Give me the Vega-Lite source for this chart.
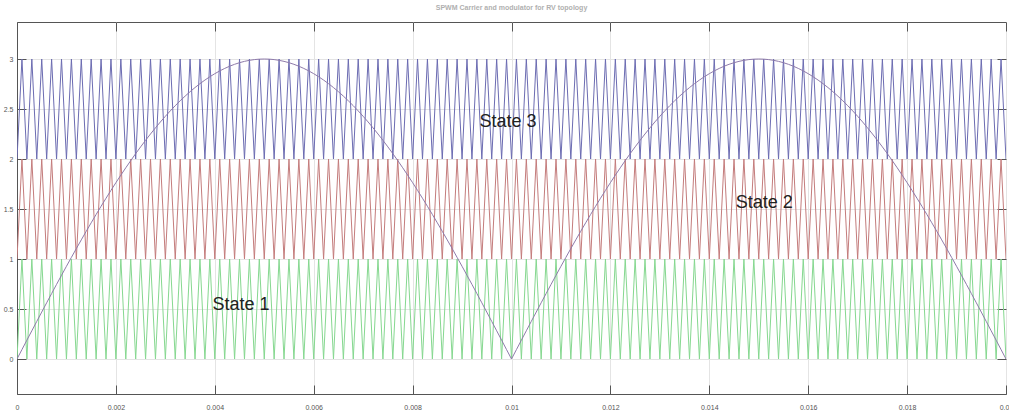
{
"$schema":"https://vega.github.io/schema/vega-lite/v6.json",
"width":989,"height":372,
"autosize":{"type":"none"},
"padding":{"left":17,"top":22,"right":3,"bottom":18},
"background":"white",
"title":{"text":"SPWM Carrier and modulator for RV topology","fontSize":7,"color":"#b0b0b0","font":"Liberation Sans","fontWeight":"bold","offset":11,"anchor":"middle"},
"config":{"view":{"stroke":"#555555","strokeWidth":1}},
"datasets":{
"carrier":[
{"t":0,"g":0,"r":1,"b":2,"m":0},
{"t":0.0001,"g":1,"r":2,"b":3,"m":0.0942},
{"t":0.0002,"g":0,"r":1,"b":2,"m":0.1884},
{"t":0.0003,"g":1,"r":2,"b":3,"m":0.2823},
{"t":0.0004,"g":0,"r":1,"b":2,"m":0.3760},
{"t":0.0005,"g":1,"r":2,"b":3,"m":0.4693},
{"t":0.0006,"g":0,"r":1,"b":2,"m":0.5621},
{"t":0.0007,"g":1,"r":2,"b":3,"m":0.6544},
{"t":0.0008,"g":0,"r":1,"b":2,"m":0.7461},
{"t":0.0009,"g":1,"r":2,"b":3,"m":0.8370},
{"t":0.0010,"g":0,"r":1,"b":2,"m":0.9271},
{"t":0.0011,"g":1,"r":2,"b":3,"m":1.0162},
{"t":0.0012,"g":0,"r":1,"b":2,"m":1.1044},
{"t":0.0013,"g":1,"r":2,"b":3,"m":1.1914},
{"t":0.0014,"g":0,"r":1,"b":2,"m":1.2773},
{"t":0.0015,"g":1,"r":2,"b":3,"m":1.3620},
{"t":0.0016,"g":0,"r":1,"b":2,"m":1.4453},
{"t":0.0017,"g":1,"r":2,"b":3,"m":1.5271},
{"t":0.0018,"g":0,"r":1,"b":2,"m":1.6075},
{"t":0.0019,"g":1,"r":2,"b":3,"m":1.6862},
{"t":0.0020,"g":0,"r":1,"b":2,"m":1.7634},
{"t":0.0021,"g":1,"r":2,"b":3,"m":1.8387},
{"t":0.0022,"g":0,"r":1,"b":2,"m":1.9123},
{"t":0.0023,"g":1,"r":2,"b":3,"m":1.9839},
{"t":0.0024,"g":0,"r":1,"b":2,"m":2.0536},
{"t":0.0025,"g":1,"r":2,"b":3,"m":2.1213},
{"t":0.0026,"g":0,"r":1,"b":2,"m":2.1869},
{"t":0.0027,"g":1,"r":2,"b":3,"m":2.2503},
{"t":0.0028,"g":0,"r":1,"b":2,"m":2.3115},
{"t":0.0029,"g":1,"r":2,"b":3,"m":2.3705},
{"t":0.0030,"g":0,"r":1,"b":2,"m":2.4271},
{"t":0.0031,"g":1,"r":2,"b":3,"m":2.4812},
{"t":0.0032,"g":0,"r":1,"b":2,"m":2.5330},
{"t":0.0033,"g":1,"r":2,"b":3,"m":2.5822},
{"t":0.0034,"g":0,"r":1,"b":2,"m":2.6289},
{"t":0.0035,"g":1,"r":2,"b":3,"m":2.6730},
{"t":0.0036,"g":0,"r":1,"b":2,"m":2.7145},
{"t":0.0037,"g":1,"r":2,"b":3,"m":2.7533},
{"t":0.0038,"g":0,"r":1,"b":2,"m":2.7893},
{"t":0.0039,"g":1,"r":2,"b":3,"m":2.8226},
{"t":0.0040,"g":0,"r":1,"b":2,"m":2.8532},
{"t":0.0041,"g":1,"r":2,"b":3,"m":2.8809},
{"t":0.0042,"g":0,"r":1,"b":2,"m":2.9057},
{"t":0.0043,"g":1,"r":2,"b":3,"m":2.9278},
{"t":0.0044,"g":0,"r":1,"b":2,"m":2.9469},
{"t":0.0045,"g":1,"r":2,"b":3,"m":2.9631},
{"t":0.0046,"g":0,"r":1,"b":2,"m":2.9763},
{"t":0.0047,"g":1,"r":2,"b":3,"m":2.9867},
{"t":0.0048,"g":0,"r":1,"b":2,"m":2.9941},
{"t":0.0049,"g":1,"r":2,"b":3,"m":2.9985},
{"t":0.0050,"g":0,"r":1,"b":2,"m":3},
{"t":0.0051,"g":1,"r":2,"b":3,"m":2.9985},
{"t":0.0052,"g":0,"r":1,"b":2,"m":2.9941},
{"t":0.0053,"g":1,"r":2,"b":3,"m":2.9867},
{"t":0.0054,"g":0,"r":1,"b":2,"m":2.9763},
{"t":0.0055,"g":1,"r":2,"b":3,"m":2.9631},
{"t":0.0056,"g":0,"r":1,"b":2,"m":2.9469},
{"t":0.0057,"g":1,"r":2,"b":3,"m":2.9278},
{"t":0.0058,"g":0,"r":1,"b":2,"m":2.9057},
{"t":0.0059,"g":1,"r":2,"b":3,"m":2.8809},
{"t":0.0060,"g":0,"r":1,"b":2,"m":2.8532},
{"t":0.0061,"g":1,"r":2,"b":3,"m":2.8226},
{"t":0.0062,"g":0,"r":1,"b":2,"m":2.7893},
{"t":0.0063,"g":1,"r":2,"b":3,"m":2.7533},
{"t":0.0064,"g":0,"r":1,"b":2,"m":2.7145},
{"t":0.0065,"g":1,"r":2,"b":3,"m":2.6730},
{"t":0.0066,"g":0,"r":1,"b":2,"m":2.6289},
{"t":0.0067,"g":1,"r":2,"b":3,"m":2.5822},
{"t":0.0068,"g":0,"r":1,"b":2,"m":2.5330},
{"t":0.0069,"g":1,"r":2,"b":3,"m":2.4812},
{"t":0.0070,"g":0,"r":1,"b":2,"m":2.4271},
{"t":0.0071,"g":1,"r":2,"b":3,"m":2.3705},
{"t":0.0072,"g":0,"r":1,"b":2,"m":2.3115},
{"t":0.0073,"g":1,"r":2,"b":3,"m":2.2503},
{"t":0.0074,"g":0,"r":1,"b":2,"m":2.1869},
{"t":0.0075,"g":1,"r":2,"b":3,"m":2.1213},
{"t":0.0076,"g":0,"r":1,"b":2,"m":2.0536},
{"t":0.0077,"g":1,"r":2,"b":3,"m":1.9839},
{"t":0.0078,"g":0,"r":1,"b":2,"m":1.9123},
{"t":0.0079,"g":1,"r":2,"b":3,"m":1.8387},
{"t":0.0080,"g":0,"r":1,"b":2,"m":1.7634},
{"t":0.0081,"g":1,"r":2,"b":3,"m":1.6862},
{"t":0.0082,"g":0,"r":1,"b":2,"m":1.6075},
{"t":0.0083,"g":1,"r":2,"b":3,"m":1.5271},
{"t":0.0084,"g":0,"r":1,"b":2,"m":1.4453},
{"t":0.0085,"g":1,"r":2,"b":3,"m":1.3620},
{"t":0.0086,"g":0,"r":1,"b":2,"m":1.2773},
{"t":0.0087,"g":1,"r":2,"b":3,"m":1.1914},
{"t":0.0088,"g":0,"r":1,"b":2,"m":1.1044},
{"t":0.0089,"g":1,"r":2,"b":3,"m":1.0162},
{"t":0.0090,"g":0,"r":1,"b":2,"m":0.9271},
{"t":0.0091,"g":1,"r":2,"b":3,"m":0.8370},
{"t":0.0092,"g":0,"r":1,"b":2,"m":0.7461},
{"t":0.0093,"g":1,"r":2,"b":3,"m":0.6544},
{"t":0.0094,"g":0,"r":1,"b":2,"m":0.5621},
{"t":0.0095,"g":1,"r":2,"b":3,"m":0.4693},
{"t":0.0096,"g":0,"r":1,"b":2,"m":0.3760},
{"t":0.0097,"g":1,"r":2,"b":3,"m":0.2823},
{"t":0.0098,"g":0,"r":1,"b":2,"m":0.1884},
{"t":0.0099,"g":1,"r":2,"b":3,"m":0.0942},
{"t":0.0100,"g":0,"r":1,"b":2,"m":0},
{"t":0.0101,"g":1,"r":2,"b":3,"m":0.0942},
{"t":0.0102,"g":0,"r":1,"b":2,"m":0.1884},
{"t":0.0103,"g":1,"r":2,"b":3,"m":0.2823},
{"t":0.0104,"g":0,"r":1,"b":2,"m":0.3760},
{"t":0.0105,"g":1,"r":2,"b":3,"m":0.4693},
{"t":0.0106,"g":0,"r":1,"b":2,"m":0.5621},
{"t":0.0107,"g":1,"r":2,"b":3,"m":0.6544},
{"t":0.0108,"g":0,"r":1,"b":2,"m":0.7461},
{"t":0.0109,"g":1,"r":2,"b":3,"m":0.8370},
{"t":0.0110,"g":0,"r":1,"b":2,"m":0.9271},
{"t":0.0111,"g":1,"r":2,"b":3,"m":1.0162},
{"t":0.0112,"g":0,"r":1,"b":2,"m":1.1044},
{"t":0.0113,"g":1,"r":2,"b":3,"m":1.1914},
{"t":0.0114,"g":0,"r":1,"b":2,"m":1.2773},
{"t":0.0115,"g":1,"r":2,"b":3,"m":1.3620},
{"t":0.0116,"g":0,"r":1,"b":2,"m":1.4453},
{"t":0.0117,"g":1,"r":2,"b":3,"m":1.5271},
{"t":0.0118,"g":0,"r":1,"b":2,"m":1.6075},
{"t":0.0119,"g":1,"r":2,"b":3,"m":1.6862},
{"t":0.0120,"g":0,"r":1,"b":2,"m":1.7634},
{"t":0.0121,"g":1,"r":2,"b":3,"m":1.8387},
{"t":0.0122,"g":0,"r":1,"b":2,"m":1.9123},
{"t":0.0123,"g":1,"r":2,"b":3,"m":1.9839},
{"t":0.0124,"g":0,"r":1,"b":2,"m":2.0536},
{"t":0.0125,"g":1,"r":2,"b":3,"m":2.1213},
{"t":0.0126,"g":0,"r":1,"b":2,"m":2.1869},
{"t":0.0127,"g":1,"r":2,"b":3,"m":2.2503},
{"t":0.0128,"g":0,"r":1,"b":2,"m":2.3115},
{"t":0.0129,"g":1,"r":2,"b":3,"m":2.3705},
{"t":0.0130,"g":0,"r":1,"b":2,"m":2.4271},
{"t":0.0131,"g":1,"r":2,"b":3,"m":2.4812},
{"t":0.0132,"g":0,"r":1,"b":2,"m":2.5330},
{"t":0.0133,"g":1,"r":2,"b":3,"m":2.5822},
{"t":0.0134,"g":0,"r":1,"b":2,"m":2.6289},
{"t":0.0135,"g":1,"r":2,"b":3,"m":2.6730},
{"t":0.0136,"g":0,"r":1,"b":2,"m":2.7145},
{"t":0.0137,"g":1,"r":2,"b":3,"m":2.7533},
{"t":0.0138,"g":0,"r":1,"b":2,"m":2.7893},
{"t":0.0139,"g":1,"r":2,"b":3,"m":2.8226},
{"t":0.0140,"g":0,"r":1,"b":2,"m":2.8532},
{"t":0.0141,"g":1,"r":2,"b":3,"m":2.8809},
{"t":0.0142,"g":0,"r":1,"b":2,"m":2.9057},
{"t":0.0143,"g":1,"r":2,"b":3,"m":2.9278},
{"t":0.0144,"g":0,"r":1,"b":2,"m":2.9469},
{"t":0.0145,"g":1,"r":2,"b":3,"m":2.9631},
{"t":0.0146,"g":0,"r":1,"b":2,"m":2.9763},
{"t":0.0147,"g":1,"r":2,"b":3,"m":2.9867},
{"t":0.0148,"g":0,"r":1,"b":2,"m":2.9941},
{"t":0.0149,"g":1,"r":2,"b":3,"m":2.9985},
{"t":0.0150,"g":0,"r":1,"b":2,"m":3},
{"t":0.0151,"g":1,"r":2,"b":3,"m":2.9985},
{"t":0.0152,"g":0,"r":1,"b":2,"m":2.9941},
{"t":0.0153,"g":1,"r":2,"b":3,"m":2.9867},
{"t":0.0154,"g":0,"r":1,"b":2,"m":2.9763},
{"t":0.0155,"g":1,"r":2,"b":3,"m":2.9631},
{"t":0.0156,"g":0,"r":1,"b":2,"m":2.9469},
{"t":0.0157,"g":1,"r":2,"b":3,"m":2.9278},
{"t":0.0158,"g":0,"r":1,"b":2,"m":2.9057},
{"t":0.0159,"g":1,"r":2,"b":3,"m":2.8809},
{"t":0.0160,"g":0,"r":1,"b":2,"m":2.8532},
{"t":0.0161,"g":1,"r":2,"b":3,"m":2.8226},
{"t":0.0162,"g":0,"r":1,"b":2,"m":2.7893},
{"t":0.0163,"g":1,"r":2,"b":3,"m":2.7533},
{"t":0.0164,"g":0,"r":1,"b":2,"m":2.7145},
{"t":0.0165,"g":1,"r":2,"b":3,"m":2.6730},
{"t":0.0166,"g":0,"r":1,"b":2,"m":2.6289},
{"t":0.0167,"g":1,"r":2,"b":3,"m":2.5822},
{"t":0.0168,"g":0,"r":1,"b":2,"m":2.5330},
{"t":0.0169,"g":1,"r":2,"b":3,"m":2.4812},
{"t":0.0170,"g":0,"r":1,"b":2,"m":2.4271},
{"t":0.0171,"g":1,"r":2,"b":3,"m":2.3705},
{"t":0.0172,"g":0,"r":1,"b":2,"m":2.3115},
{"t":0.0173,"g":1,"r":2,"b":3,"m":2.2503},
{"t":0.0174,"g":0,"r":1,"b":2,"m":2.1869},
{"t":0.0175,"g":1,"r":2,"b":3,"m":2.1213},
{"t":0.0176,"g":0,"r":1,"b":2,"m":2.0536},
{"t":0.0177,"g":1,"r":2,"b":3,"m":1.9839},
{"t":0.0178,"g":0,"r":1,"b":2,"m":1.9123},
{"t":0.0179,"g":1,"r":2,"b":3,"m":1.8387},
{"t":0.0180,"g":0,"r":1,"b":2,"m":1.7634},
{"t":0.0181,"g":1,"r":2,"b":3,"m":1.6862},
{"t":0.0182,"g":0,"r":1,"b":2,"m":1.6075},
{"t":0.0183,"g":1,"r":2,"b":3,"m":1.5271},
{"t":0.0184,"g":0,"r":1,"b":2,"m":1.4453},
{"t":0.0185,"g":1,"r":2,"b":3,"m":1.3620},
{"t":0.0186,"g":0,"r":1,"b":2,"m":1.2773},
{"t":0.0187,"g":1,"r":2,"b":3,"m":1.1914},
{"t":0.0188,"g":0,"r":1,"b":2,"m":1.1044},
{"t":0.0189,"g":1,"r":2,"b":3,"m":1.0162},
{"t":0.0190,"g":0,"r":1,"b":2,"m":0.9271},
{"t":0.0191,"g":1,"r":2,"b":3,"m":0.8370},
{"t":0.0192,"g":0,"r":1,"b":2,"m":0.7461},
{"t":0.0193,"g":1,"r":2,"b":3,"m":0.6544},
{"t":0.0194,"g":0,"r":1,"b":2,"m":0.5621},
{"t":0.0195,"g":1,"r":2,"b":3,"m":0.4693},
{"t":0.0196,"g":0,"r":1,"b":2,"m":0.3760},
{"t":0.0197,"g":1,"r":2,"b":3,"m":0.2823},
{"t":0.0198,"g":0,"r":1,"b":2,"m":0.1884},
{"t":0.0199,"g":1,"r":2,"b":3,"m":0.0942},
{"t":0.0200,"g":0,"r":1,"b":2,"m":0}
],
"labels":[
{"t":0.00993,"y":2.37,"label":"State 3"},
{"t":0.01511,"y":1.56,"label":"State 2"},
{"t":0.00453,"y":0.54,"label":"State 1"}
]
},
"layer":[
{"data":{"name":"carrier"},
 "transform":[{"fold":["g","r","b","m"],"as":["series","v"]}],
 "mark":{"type":"line","strokeWidth":1,"clip":true},
 "encoding":{
  "x":{"field":"t","type":"quantitative","scale":{"domain":[0,0.02],"nice":false,"zero":false},
       "axis":{"title":null,"values":[0,0.002,0.004,0.006,0.008,0.01,0.012,0.014,0.016,0.018,0.02],"format":"~g","tickSize":-9,"tickColor":"#555555","domainColor":"#555555","grid":true,"gridColor":"#e4e4e4","labelFontSize":7,"labelColor":"#555555","labelFont":"Liberation Sans","labelPadding":18,"labelFlush":false,"labelOverlap":false}},
  "y":{"field":"v","type":"quantitative","scale":{"domain":[-0.35,3.37],"nice":false,"zero":false},
       "axis":{"title":null,"values":[0,0.5,1,1.5,2,2.5,3],"format":"~g","tickSize":-9,"tickColor":"#555555","domainColor":"#555555","grid":true,"gridColor":"#e4e4e4","labelFontSize":7,"labelColor":"#555555","labelFont":"Liberation Sans","labelPadding":13,"labelOverlap":false}},
  "color":{"field":"series","type":"nominal","scale":{"domain":["g","r","b","m"],"range":["#86d890","#c47c7c","#6c6cb2","#8e7aaa"]},"legend":null}
 }},
{"data":{"name":"labels"},
 "mark":{"type":"text","fontSize":18,"font":"Liberation Sans","color":"#222222","align":"center","baseline":"middle"},
 "encoding":{
  "x":{"field":"t","type":"quantitative","scale":{"domain":[0,0.02],"nice":false,"zero":false},
       "axis":{"orient":"top","title":null,"labels":false,"values":[0,0.002,0.004,0.006,0.008,0.01,0.012,0.014,0.016,0.018,0.02],"tickSize":-9,"tickColor":"#555555","domain":false,"grid":false}},
  "y":{"field":"y","type":"quantitative","scale":{"domain":[-0.35,3.37],"nice":false,"zero":false},
       "axis":{"orient":"right","title":null,"labels":false,"values":[0,0.5,1,1.5,2,2.5,3],"tickSize":-9,"tickColor":"#555555","domain":false,"grid":false}},
  "text":{"field":"label"}
 }}
],
"resolve":{"axis":{"x":"independent","y":"independent"}}
}
